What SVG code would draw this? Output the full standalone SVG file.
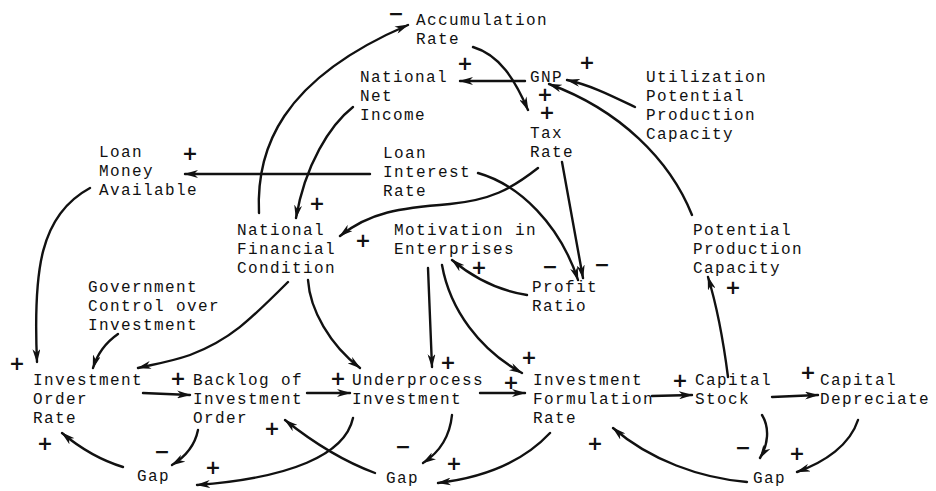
<svg xmlns="http://www.w3.org/2000/svg" width="936" height="491" viewBox="0 0 936 491">
<defs>
<style>
.t{font-family:"Liberation Mono","DejaVu Sans Mono",monospace;font-size:16px;letter-spacing:1.4px;fill:#111;}
.s{font-family:"DejaVu Sans","Liberation Sans",sans-serif;font-size:19px;font-weight:bold;fill:#111;text-anchor:middle;}
.c path,.c line{fill:none;stroke:#111;stroke-width:2.4;stroke-linecap:round;marker-end:url(#ah);}
</style>
<marker id="ah" viewBox="0 0 14 8" refX="13" refY="4" markerWidth="14" markerHeight="8" markerUnits="userSpaceOnUse" orient="auto">
<path d="M0,0 L14,4 L0,8 L4,4 z" fill="#111"/>
</marker>
</defs>
<rect width="936" height="491" fill="#fff"/>

<g class="c" id="connectors">
<path d="M259,213 C256,150 280,80 408,25"/>
<path d="M473,47 C500,55 515,80 528,110"/>
<line x1="525" y1="81" x2="460" y2="81"/>
<path d="M635,107 C610,95 590,85 567,80"/>
<path d="M692,215 C670,160 620,110 549,84"/>
<line x1="370" y1="174" x2="185" y2="174"/>
<path d="M353,107 C330,125 305,165 296,218"/>
<path d="M538,168 C510,190 490,200 450,204 C400,208 370,212 340,236"/>
<path d="M478,173 C520,185 560,225 578,280"/>
<path d="M562,162 L583,278"/>
<path d="M527,295 C495,290 470,275 452,260"/>
<path d="M90,188 C40,215 33,270 37,362"/>
<path d="M118,334 C105,343 97,355 93,368"/>
<path d="M288,282 C250,320 230,340 190,355 C170,362 150,365 138,368"/>
<path d="M308,280 C310,310 330,345 360,368"/>
<path d="M428,268 L432,367"/>
<path d="M442,265 C450,310 480,350 522,373"/>
<line x1="143" y1="393" x2="190" y2="395"/>
<line x1="307" y1="393" x2="350" y2="393"/>
<line x1="480" y1="393" x2="525" y2="393"/>
<line x1="652" y1="396" x2="692" y2="395"/>
<line x1="772" y1="397" x2="818" y2="395"/>
<path d="M728,377 C722,330 715,300 708,277"/>
<path d="M762,415 C770,428 768,445 760,458"/>
<path d="M858,420 C850,445 825,462 797,472"/>
<path d="M747,482 C700,478 650,460 613,428"/>
<path d="M550,433 C520,465 480,478 438,483"/>
<path d="M452,415 C450,435 440,452 423,463"/>
<path d="M375,473 C340,460 310,440 285,420"/>
<path d="M353,418 C345,455 290,478 197,485"/>
<path d="M198,430 C195,445 185,457 172,465"/>
<path d="M123,467 C100,460 80,448 62,433"/>
</g>

<g id="accumulation-rate"><text class="t" x="416" y="25">Accumulation<tspan x="416" dy="19">Rate</tspan></text></g>
<g id="national-net-income"><text class="t" x="360" y="82">National<tspan x="360" dy="19">Net</tspan><tspan x="360" dy="19">Income</tspan></text></g>
<g id="gnp"><text class="t" x="530" y="82">GNP</text></g>
<g id="tax-rate"><text class="t" x="530" y="138">Tax<tspan x="530" dy="19">Rate</tspan></text></g>
<g id="utilization"><text class="t" x="646" y="82">Utilization<tspan x="646" dy="19">Potential</tspan><tspan x="646" dy="19">Production</tspan><tspan x="646" dy="19">Capacity</tspan></text></g>
<g id="loan-interest-rate"><text class="t" x="383" y="158">Loan<tspan x="383" dy="19">Interest</tspan><tspan x="383" dy="19">Rate</tspan></text></g>
<g id="loan-money-available"><text class="t" x="99" y="157">Loan<tspan x="99" dy="19">Money</tspan><tspan x="99" dy="19">Available</tspan></text></g>
<g id="national-financial-condition"><text class="t" x="237" y="235">National<tspan x="237" dy="19">Financial</tspan><tspan x="237" dy="19">Condition</tspan></text></g>
<g id="motivation"><text class="t" x="394" y="235">Motivation in<tspan x="394" dy="19">Enterprises</tspan></text></g>
<g id="profit-ratio"><text class="t" x="532" y="292">Profit<tspan x="532" dy="19">Ratio</tspan></text></g>
<g id="potential-production-capacity"><text class="t" x="693" y="235">Potential<tspan x="693" dy="19">Production</tspan><tspan x="693" dy="19">Capacity</tspan></text></g>
<g id="government-control"><text class="t" x="88" y="292">Government<tspan x="88" dy="19">Control over</tspan><tspan x="88" dy="19">Investment</tspan></text></g>
<g id="investment-order-rate"><text class="t" x="33" y="385">Investment<tspan x="33" dy="19">Order</tspan><tspan x="33" dy="19">Rate</tspan></text></g>
<g id="backlog"><text class="t" x="193" y="385">Backlog of<tspan x="193" dy="19">Investment</tspan><tspan x="193" dy="19">Order</tspan></text></g>
<g id="underprocess"><text class="t" x="352" y="385">Underprocess<tspan x="352" dy="19">Investment</tspan></text></g>
<g id="investment-formulation-rate"><text class="t" x="533" y="385">Investment<tspan x="533" dy="19">Formulation</tspan><tspan x="533" dy="19">Rate</tspan></text></g>
<g id="capital-stock"><text class="t" x="695" y="385">Capital<tspan x="695" dy="19">Stock</tspan></text></g>
<g id="capital-depreciate"><text class="t" x="820" y="385">Capital<tspan x="820" dy="19">Depreciate</tspan></text></g>
<g id="gap-1"><text class="t" x="137" y="481">Gap</text></g>
<g id="gap-2"><text class="t" x="386" y="483">Gap</text></g>
<g id="gap-3"><text class="t" x="753" y="483">Gap</text></g>

<g id="signs">
<text class="s" x="396" y="20">−</text>
<text class="s" x="465" y="70">+</text>
<text class="s" x="587" y="69">+</text>
<text class="s" x="545" y="101">+</text>
<text class="s" x="547" y="119">+</text>
<text class="s" x="190" y="160">+</text>
<text class="s" x="317" y="210">+</text>
<text class="s" x="363" y="247">+</text>
<text class="s" x="479" y="274">+</text>
<text class="s" x="550" y="273">−</text>
<text class="s" x="602" y="271">−</text>
<text class="s" x="733" y="294">+</text>
<text class="s" x="17" y="370">+</text>
<text class="s" x="45" y="450">+</text>
<text class="s" x="178" y="385">+</text>
<text class="s" x="162" y="458">−</text>
<text class="s" x="213" y="474">+</text>
<text class="s" x="272" y="435">+</text>
<text class="s" x="338" y="385">+</text>
<text class="s" x="448" y="369">+</text>
<text class="s" x="403" y="453">−</text>
<text class="s" x="454" y="470">+</text>
<text class="s" x="511" y="389">+</text>
<text class="s" x="529" y="364">+</text>
<text class="s" x="595" y="450">+</text>
<text class="s" x="680" y="387">+</text>
<text class="s" x="808" y="379">+</text>
<text class="s" x="743" y="454">−</text>
<text class="s" x="797" y="460">+</text>
</g>
</svg>
